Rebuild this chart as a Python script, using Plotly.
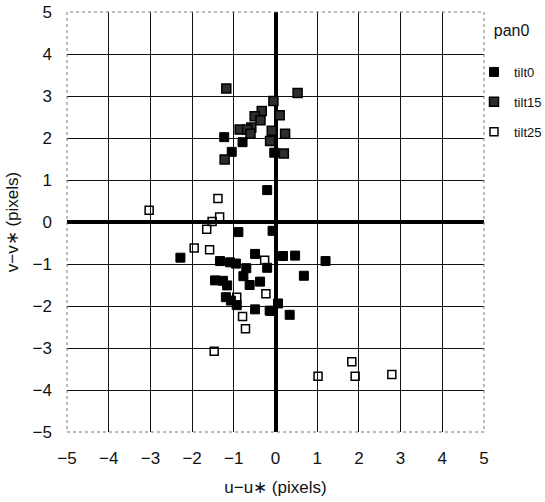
import plotly.graph_objects as go

# tilt0 (solid black squares)
tilt0_u = [-1.23, -1.05, -0.79, -0.03, -0.20, -0.89, -0.07, -2.28, -1.33, -1.09, -0.95,
           -0.49, 0.18, 0.47, 1.20, -0.70, -0.20, -0.77, 0.68, -1.45, -1.26, -1.16,
           -0.62, -0.37, -1.19, -1.07, -0.93, -0.49, -0.14, 0.06, 0.34, -0.10]
tilt0_v = [2.02, 1.67, 1.90, 1.65, 0.76, -0.24, -0.21, -0.85, -0.93, -0.96, -0.99,
           -0.76, -0.81, -0.80, -0.93, -1.10, -1.09, -1.29, -1.28, -1.39, -1.40, -1.51,
           -1.50, -1.42, -1.79, -1.87, -1.98, -2.08, -2.11, -1.94, -2.21, -2.12]

# tilt15 (dark textured squares)
tilt15_u = [-1.18, 0.53, -0.05, -0.33, -0.50, 0.10, -0.36, -0.58, -0.86, -0.68,
            -0.60, -0.09, 0.23, -0.13, -1.22, 0.20]
tilt15_v = [3.18, 3.07, 2.88, 2.64, 2.52, 2.54, 2.42, 2.25, 2.20, 2.20,
            2.10, 2.17, 2.10, 1.93, 1.49, 1.63]

# tilt25 (hollow squares)
tilt25_u = [-3.03, -1.38, -1.34, -1.52, -1.65, -1.95, -1.58, -0.26, -0.93, -0.23,
            -0.79, -0.72, -1.47, 1.02, 1.83, 1.91, 2.79]
tilt25_v = [0.28, 0.56, 0.12, 0.01, -0.17, -0.62, -0.66, -0.91, -1.79, -1.71,
            -2.25, -2.54, -3.08, -3.67, -3.33, -3.67, -3.63]

tick_vals = [-5, -4, -3, -2, -1, 0, 1, 2, 3, 4, 5]

fig = go.Figure()
fig.add_trace(go.Scatter(x=tilt0_u, y=tilt0_v, mode="markers", name="tilt0",
                         legendgroup="a",
                         marker=dict(symbol="square", size=9, color="#000000",
                                     line=dict(color="#000000", width=1))))
fig.add_trace(go.Scatter(x=tilt15_u, y=tilt15_v, mode="markers", name="tilt15",
                         legendgroup="b",
                         marker=dict(symbol="square", size=9, color="#2e2e2e",
                                     line=dict(color="#000000", width=1.5))))
fig.add_trace(go.Scatter(x=tilt25_u, y=tilt25_v, mode="markers", name="tilt25",
                         legendgroup="c",
                         marker=dict(symbol="square-open", size=8, color="#000000",
                                     line=dict(width=1.5))))

fnt = dict(family="Liberation Sans, Arial", size=17, color="#111")
axis_common = dict(range=[-5, 5], tickvals=tick_vals, showgrid=True,
                   gridcolor="#111111", gridwidth=1.3, zeroline=True,
                   zerolinecolor="#000000", zerolinewidth=3.5, showline=False,
                   ticks="", tickfont=fnt, title_font=fnt)

fig.update_xaxes(**axis_common, title_text="u−u∗ (pixels)", title_standoff=14,
                 ticklabelstandoff=14)
fig.update_yaxes(**axis_common, title_text="v−v∗ (pixels)", title_standoff=9,
                 ticklabelstandoff=14)

fig.add_shape(type="rect", xref="paper", yref="paper", x0=0, y0=0, x1=1, y1=1,
              line=dict(color="#777777", width=1, dash="dot"))

fig.update_layout(
    width=545, height=502,
    margin=dict(l=67, r=61, t=12, b=70, autoexpand=False),
    plot_bgcolor="white", paper_bgcolor="white",
    font=dict(family="Liberation Sans, Arial", color="#111"),
    legend=dict(title=dict(text="\u00a0\u00a0\u00a0\u00a0pan0<br> ", font=dict(size=16)),
                x=0.976, y=0.992, xanchor="left", yanchor="top",
                font=dict(size=13), tracegroupgap=10, itemwidth=30,
                bgcolor="rgba(0,0,0,0)"),
)

fig.write_html("out.html")
